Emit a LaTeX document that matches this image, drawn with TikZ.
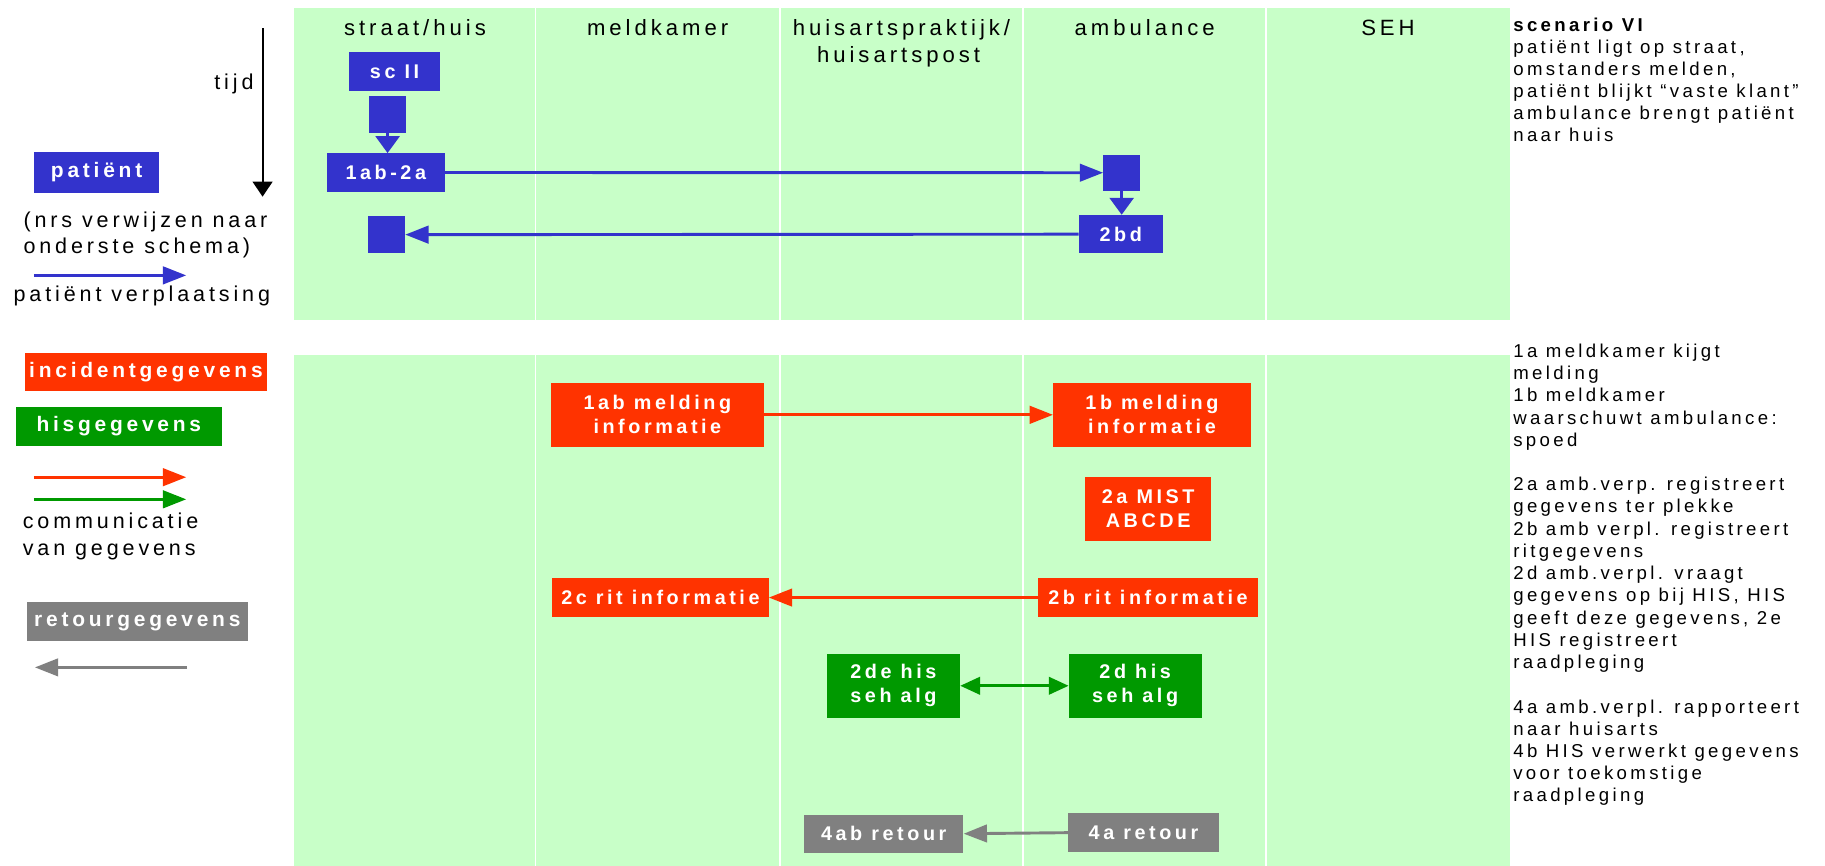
\documentclass[tikz,border=0pt]{standalone}
\usepackage{fontspec}
\setmainfont[LetterSpace=18]{Liberation Sans}
\usetikzlibrary{arrows.meta}
\definecolor{bg}{RGB}{200,255,200}
\definecolor{pblue}{RGB}{51,51,204}
\definecolor{pred}{RGB}{255,51,0}
\definecolor{pgreen}{RGB}{0,153,0}
\definecolor{pgrey}{RGB}{128,128,128}
\tikzset{
  box/.style={inner sep=0pt, text=white, align=center, font=\fontsize{17}{20.5}\selectfont\bfseries},
  bluebox/.style={box, fill=pblue},
  redbox/.style={box, fill=pred},
  greenbox/.style={box, fill=pgreen},
  greybox/.style={box, fill=pgrey},
  legbox/.style={inner sep=0pt, text=white, font=\fontsize{18}{21}\selectfont\bfseries},
  hdr/.style={anchor=base, inner sep=0pt, font=\fontsize{19}{23}\selectfont},
  legtext/.style={anchor=base west, inner sep=0pt, font=\fontsize{18.5}{22}\selectfont},
  note/.style={anchor=base west, inner sep=0pt, font=\fontsize{16}{19}\selectfont},
  divider/.style={white, line width=1.5pt},
  harrow/.style={line width=2.5pt, -{Triangle[length=20pt,width=15pt]}},
  varrow/.style={line width=2.5pt, -{Triangle[length=14.5pt,width=20.5pt]}},
  blueflow/.style={harrow, draw=pblue, fill=pblue},
  redflow/.style={harrow, draw=pred, fill=pred},
  greyflow/.style={harrow, draw=pgrey, fill=pgrey},
  greenflow/.style={line width=2.3pt, draw=pgreen, fill=pgreen, {Triangle[length=17pt,width=15pt]}-{Triangle[length=17pt,width=15pt]}},
  greenleg/.style={harrow, draw=pgreen, fill=pgreen},
}
\begin{document}
\begin{tikzpicture}[x=1pt,y=-1pt]
\useasboundingbox (0,0) rectangle (1568,744);
\fill[white] (0,0) rectangle (1568,744);
% panels
\fill[bg] (253,7) rectangle (1297,275);
\fill[bg] (253,305) rectangle (1297,744);
\foreach \x in {460,670,879,1088}{
  \draw[divider] (\x,7) -- (\x,275);
  \draw[divider] (\x,305) -- (\x,744);
}
% headers
\node[hdr] (h1) at (356.5,30.5) {straat/huis};
\node[hdr] (h2) at (565,30.5) {meldkamer};
\node[hdr] (h3) at (774.5,30.5) {huisartspraktijk/};
\node[hdr] (h3b) at (772,53.5) {huisartspost};
\node[hdr] (h4) at (983.5,30.5) {ambulance};
\node[hdr] (h5) at (1192.5,30.5) {SEH};
% top legend
\node[anchor=base east, inner sep=0pt, font=\fontsize{18.5}{22}\selectfont] (tijd) at (218,77) {tijd};
\coordinate (ta) at (225.6,24.3);
\coordinate (tb) at (225.6,169);
\draw[line width=1.8pt, -{Triangle[length=13pt,width=17pt]}] (ta) -- (tb);
\node[legbox, fill=pblue, minimum width=108pt, minimum height=35pt] (lp) at (83,148) {patiënt};
\node[legtext] (nrs1) at (20,195.5) {(nrs verwijzen naar};
\node[legtext] (nrs2) at (20,217.5) {onderste schema)};
\coordinate (lba) at (29,236.6);
\coordinate (lbb) at (160,236.6);
\draw[blueflow] (lba) -- (lbb);
\node[legtext] (pv) at (11.5,259) {patiënt verplaatsing};
% top flow
\node[bluebox, minimum width=78pt, minimum height=33pt] (sc) at (339,61.3) {sc II};
\node[bluebox, minimum width=32pt, minimum height=31.5pt] (sq1) at (333,98.3) {};
\node[bluebox, minimum width=101pt, minimum height=33pt] (ab) at (331.5,148.2) {1ab-2a};
\node[bluebox, minimum width=31.5pt, minimum height=31pt] (sq2) at (963.7,148.4) {};
\node[bluebox, minimum width=72pt, minimum height=33pt] (bd) at (963,201.2) {2bd};
\node[bluebox, minimum width=32pt, minimum height=32pt] (sq3) at (332,201.6) {};
\draw[varrow, draw=pblue, fill=pblue] (sq1.south) -- (sq1.south |- ab.north);
\draw[blueflow] (ab.east) -- (sq2.west);
\draw[varrow, draw=pblue, fill=pblue] (sq2.south) -- (sq2.south |- bd.north);
\draw[blueflow] (bd.west) -- (sq3.east);
% top right text
\foreach \i/\t in {1/{patiënt ligt op straat,}, 2/{omstanders melden,}, 3/{patiënt blijkt “vaste klant”}, 4/{ambulance brengt patiënt}, 5/{naar huis}}{
  \node[note] (s\i) at (1300,{27+19*\i}) {\t};
}
\node[note, font=\fontsize{16}{19}\selectfont\bfseries] (s0) at (1300,27) {scenario VI};
% bottom legend
\node[legbox, fill=pred, minimum width=208pt, minimum height=33pt] (li) at (125.4,319.8) {incidentgegevens};
\node[legbox, fill=pgreen, minimum width=177pt, minimum height=33.4pt] (lh) at (102.1,366.3) {hisgegevens};
\coordinate (lra) at (29,410);
\coordinate (lrb) at (160,410);
\draw[redflow] (lra) -- (lrb);
\coordinate (lga) at (29,429);
\coordinate (lgb) at (160,429);
\draw[greenleg] (lga) -- (lgb);
\node[legtext] (com1) at (19.4,454) {communicatie};
\node[legtext] (com2) at (19.4,477.4) {van gegevens};
\node[legbox, fill=pgrey, minimum width=190pt, minimum height=33pt] (lr) at (118,534) {retourgegevens};
\coordinate (lya) at (160.7,573.4);
\coordinate (lyb) at (30,573.4);
\draw[greyflow] (lya) -- (lyb);
% bottom flow
\node[redbox, minimum width=183pt, minimum height=54.7pt] (m1ab) at (564.8,356.4) {1ab melding\\informatie};
\node[redbox, minimum width=169.6pt, minimum height=54.7pt] (m1b) at (989.7,356.4) {1b melding\\informatie};
\node[redbox, minimum width=108.7pt, minimum height=54.7pt] (mist) at (986.5,437.2) {2a MIST\\ABCDE};
\node[redbox, minimum width=189pt, minimum height=33.8pt] (r2b) at (986.3,513.4) {2b rit informatie};
\node[redbox, minimum width=186pt, minimum height=33.8pt] (r2c) at (567.4,513.4) {2c rit informatie};
\node[greenbox, minimum width=114.5pt, minimum height=54.6pt] (h2de) at (767.6,589.2) {2de his\\seh alg};
\node[greenbox, minimum width=114pt, minimum height=54.6pt] (h2d) at (975.3,589.2) {2d his\\seh alg};
\node[greybox, minimum width=137pt, minimum height=33pt] (g4ab) at (759.3,716.3) {4ab retour};
\node[greybox, minimum width=129.7pt, minimum height=33pt] (g4a) at (982.5,715.4) {4a retour};
\draw[redflow] (m1ab.east) -- (m1b.west);
\draw[redflow] (r2b.west) -- (r2c.east);
\draw[greenflow] (h2de.east) -- (h2d.west);
\draw[greyflow] (g4a.west) -- (g4ab.east);
% bottom right notes
\foreach \i/\t in {0/{1a meldkamer kijgt}, 1/{melding}, 2/{1b meldkamer}, 3/{waarschuwt ambulance:}, 4/{spoed}, 6/{2a amb.verp. registreert}, 7/{gegevens ter plekke}, 8/{2b amb verpl. registreert}, 9/{ritgegevens}, 10/{2d amb.verpl. vraagt}, 11/{gegevens op bij HIS, HIS}, 12/{geeft deze gegevens, 2e}, 13/{HIS registreert}, 14/{raadpleging}, 16/{4a amb.verpl. rapporteert}, 17/{naar huisarts}, 18/{4b HIS verwerkt gegevens}, 19/{voor toekomstige}, 20/{raadpleging}}{
  \node[note] (n\i) at (1300,{307+19.1*\i}) {\t};
}
\end{tikzpicture}
\end{document}
